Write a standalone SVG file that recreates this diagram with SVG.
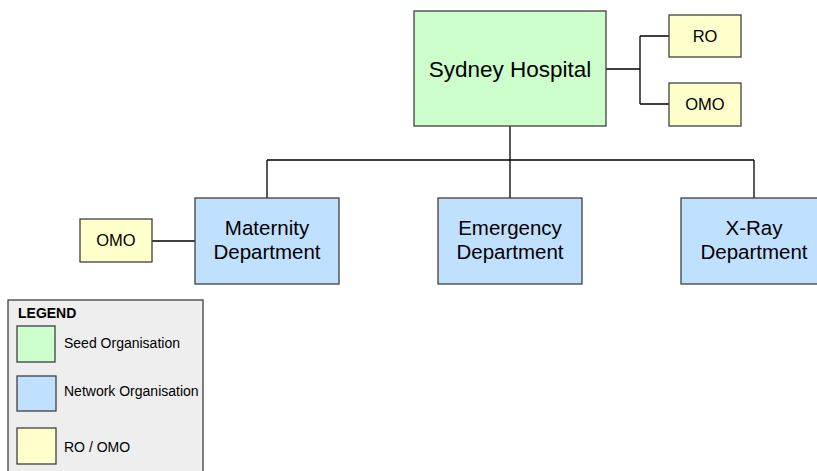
<svg xmlns="http://www.w3.org/2000/svg" width="817" height="471" viewBox="0 0 817 471">
<style>
.box{stroke:#404040;stroke-width:1.3}
.seed{fill:#ccffcc}
.net{fill:#c0e0ff}
.ro{fill:#ffffcc}
.t{font-family:"Liberation Sans",Arial,sans-serif;fill:#000;text-anchor:middle}
.l{font-family:"Liberation Sans",Arial,sans-serif;fill:#000;font-size:14px}
.c{fill:none;stroke:#000;stroke-width:1.3}
</style>
<rect width="817" height="471" fill="#fff"/>
<g id="connectors">
<path class="c" d="M606 69H640M640 36V104M640 36H669M640 104H669"/>
<path class="c" d="M510 126V160M267 160H754M267 160V198M510 160V198M754 160V198"/>
<path class="c" d="M152 241H195"/>
</g>
<g id="sydney">
<rect class="box seed" x="414" y="11" width="192" height="115"/>
<text class="t" x="510" y="77" font-size="22.5">Sydney Hospital</text>
</g>
<g id="ro1">
<rect class="box ro" x="669" y="15" width="72" height="42"/>
<text class="t" x="705" y="42" font-size="16.5">RO</text>
</g>
<g id="omo1">
<rect class="box ro" x="669" y="83" width="72" height="43"/>
<text class="t" x="705" y="110" font-size="16.5">OMO</text>
</g>
<g id="maternity">
<rect class="box net" x="195" y="198" width="144" height="86"/>
<text class="t" x="267" y="235" font-size="20.5">Maternity</text>
<text class="t" x="267" y="259" font-size="20.5">Department</text>
</g>
<g id="emergency">
<rect class="box net" x="438" y="198" width="144" height="86"/>
<text class="t" x="510" y="235" font-size="20.5">Emergency</text>
<text class="t" x="510" y="259" font-size="20.5">Department</text>
</g>
<g id="xray">
<rect class="box net" x="681" y="198" width="144" height="86"/>
<text class="t" x="754" y="235" font-size="20.5">X-Ray</text>
<text class="t" x="754" y="259" font-size="20.5">Department</text>
</g>
<g id="omo2">
<rect class="box ro" x="80" y="219" width="72" height="43"/>
<text class="t" x="116" y="246" font-size="16.5">OMO</text>
</g>
<g id="legend">
<rect x="8" y="300" width="195" height="180" fill="#eeeeee" stroke="#404040" stroke-width="1.3"/>
<text class="l" x="18" y="318" font-weight="bold">LEGEND</text>
<rect class="box seed" x="17" y="326" width="38" height="36"/>
<text class="l" x="64" y="348">Seed Organisation</text>
<rect class="box net" x="17" y="376" width="39" height="35"/>
<text class="l" x="64" y="396">Network Organisation</text>
<rect class="box ro" x="17" y="428" width="39" height="36"/>
<text class="l" x="64" y="452">RO / OMO</text>
</g>
</svg>
